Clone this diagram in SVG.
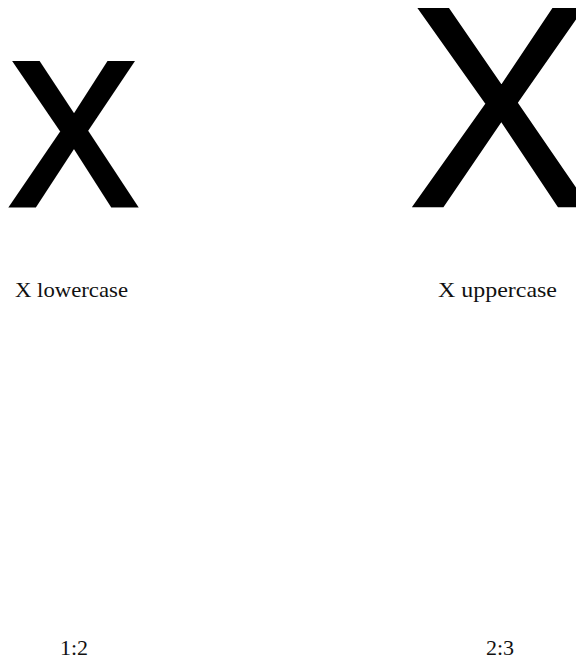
<svg xmlns="http://www.w3.org/2000/svg" width="576" height="659" viewBox="0 0 576 659">
  <style>
    .big { font-family: "Liberation Sans", Arial, sans-serif; fill: #000; stroke: #000; stroke-linejoin: miter; text-anchor: middle; }
    .lbl { font-family: "Liberation Serif", "Times New Roman", serif; font-size: 22px; fill: #111; }
    .ratio { font-family: "Liberation Serif", "Times New Roman", serif; font-size: 22px; fill: #111; text-anchor: middle; }
  </style>
  <rect width="576" height="659" fill="#fff"/>
  <g id="x-lowercase">
    <text class="big" font-size="203" stroke-width="7" transform="translate(73.5,203.5) scale(0.93,1)">X</text>
    <text class="lbl" x="15" y="297" textLength="113" lengthAdjust="spacingAndGlyphs">X lowercase</text>
    <text class="ratio" x="74" y="655">1:2</text>
  </g>
  <g id="x-uppercase">
    <text class="big" font-size="286" stroke-width="2.5" transform="translate(500.5,206) scale(0.97,1)">X</text>
    <text class="lbl" x="438" y="297" textLength="119" lengthAdjust="spacingAndGlyphs">X uppercase</text>
    <text class="ratio" x="500" y="655">2:3</text>
  </g>
  <g id="connectors"/>
</svg>
